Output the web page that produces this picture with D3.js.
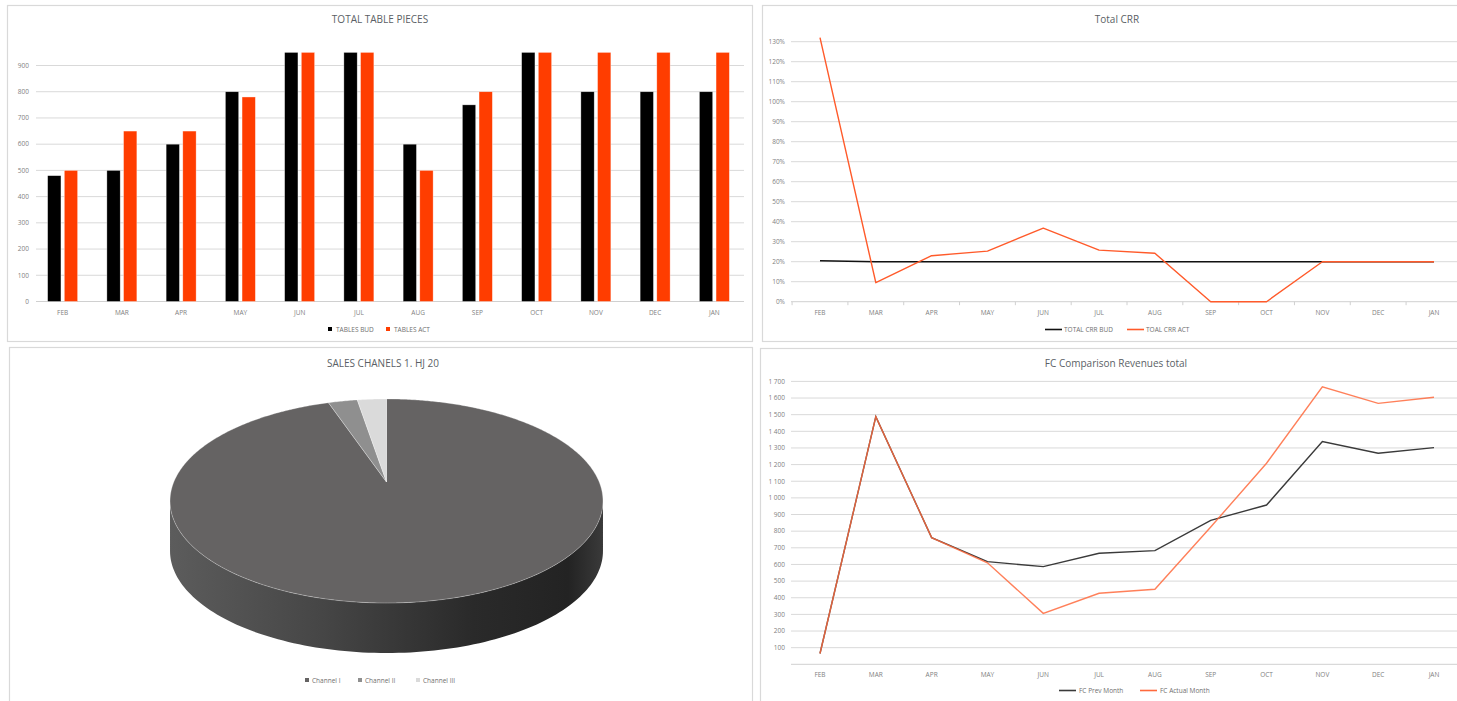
<!DOCTYPE html>
<html>
<head>
<meta charset="utf-8">
<script src="https://cdn.jsdelivr.net/npm/d3@7"></script>
<style>
  html, body { margin: 0; padding: 0; background: #ffffff; }
  svg { display: block; font-family: "Open Sans", "Liberation Sans", sans-serif; }
  .tick-label { fill: #7f7f7f; font-size: 6.5px; }
  .title { fill: #5b5f66; font-size: 10px; }
  .legend { fill: #6f6f6f; font-size: 6.5px; }
</style>
</head>
<body>
<svg id="chart" width="1457" height="701"></svg>
<script>
// ---- data ----
const months = ["FEB","MAR","APR","MAY","JUN","JUL","AUG","SEP","OCT","NOV","DEC","JAN"];

const tablesBud = [480, 500, 600, 800, 950, 950, 600, 750, 950, 800, 800, 800];
const tablesAct = [500, 650, 650, 780, 950, 950, 500, 800, 950, 950, 950, 950];
const tableTicks = [0, 100, 200, 300, 400, 500, 600, 700, 800, 900];

const crrBud = [0.205, 0.20, 0.20, 0.20, 0.20, 0.20, 0.20, 0.20, 0.20, 0.20, 0.20, 0.20];
const crrAct = [1.32, 0.095, 0.23, 0.253, 0.368, 0.258, 0.242, 0.0, 0.0, 0.20, 0.20, 0.20];
const crrTicks = [0, 0.1, 0.2, 0.3, 0.4, 0.5, 0.6, 0.7, 0.8, 0.9, 1.0, 1.1, 1.2, 1.3];

const channels = ["Channel I", "Channel II", "Channel III"];
const channelShare = [94.8, 2.6, 2.6];

const fcPrev   = [65, 1488, 761, 617, 587, 667, 683, 865, 957, 1338, 1268, 1302];
const fcActual = [65, 1488, 761, 610, 306, 427, 451, 825, 1208, 1668, 1568, 1605];
const fcTicks = [100, 200, 300, 400, 500, 600, 700, 800, 900, 1000, 1100, 1200, 1300, 1400, 1500, 1600, 1700];

// ---- helpers ----
const svg = d3.select("#chart");
const gridColor = "#d9d9d9";
const panelColor = "#d9d9d9";

function panel(x, y, w, h) {
  svg.append("rect").attr("x", x + 0.5).attr("y", y + 0.5).attr("width", w).attr("height", h)
    .attr("fill", "#ffffff").attr("stroke", panelColor).attr("stroke-width", 1.2);
}
function title(txt, x, y) {
  svg.append("text").attr("class", "title").attr("x", x).attr("y", y)
    .attr("text-anchor", "middle").text(txt);
}

panel(7, 5, 745, 336);
panel(762, 5, 710, 336);
panel(9, 347, 743, 370);
panel(760, 348, 712, 370);

// ================= TOTAL TABLE PIECES (grouped bars) =================
{
  const g = svg.append("g");
  const x0 = d3.scaleBand().domain(months).range([33, 744]).padding(0);
  const x1 = d3.scaleBand().domain(["bud", "act"]).range([-15, 15]).paddingInner(0.2);
  const y = d3.scaleLinear().domain([0, 950]).range([301.5, 52.4]);

  g.selectAll("line.grid").data(tableTicks.slice(1)).join("line")
    .attr("x1", 36).attr("x2", 744)
    .attr("y1", d => y(d)).attr("y2", d => y(d))
    .attr("stroke", gridColor).attr("stroke-width", 1);
  g.append("line").attr("x1", 36).attr("x2", 744).attr("y1", y(0)).attr("y2", y(0))
    .attr("stroke", "#d0d0d0").attr("stroke-width", 1);

  g.selectAll("text.yl").data(tableTicks).join("text")
    .attr("class", "tick-label").attr("x", 29).attr("y", d => y(d) + 2.3)
    .attr("text-anchor", "end").text(d => d);

  const series = [
    { key: "bud", values: tablesBud, color: "#000000" },
    { key: "act", values: tablesAct, color: "#ff3d00" }
  ];
  series.forEach(s => {
    g.selectAll(null).data(s.values).join("rect")
      .attr("x", (d, i) => x0(months[i]) + x0.bandwidth() / 2 + x1(s.key))
      .attr("width", x1.bandwidth())
      .attr("y", d => y(d))
      .attr("height", d => y(0) - y(d))
      .attr("fill", s.color)
      .attr("stroke", "#ffffff").attr("stroke-opacity", 0.6).attr("stroke-width", 0.6);
  });

  g.selectAll("text.xl").data(months).join("text")
    .attr("class", "tick-label").attr("x", d => x0(d) + x0.bandwidth() / 2).attr("y", 314.5)
    .attr("text-anchor", "middle").text(d => d);

  title("TOTAL TABLE PIECES", 380, 23);

  const leg = [
    { label: "TABLES BUD", color: "#000000", x: 328 },
    { label: "TABLES ACT", color: "#ff3d00", x: 386 }
  ];
  leg.forEach(l => {
    g.append("rect").attr("x", l.x).attr("y", 327).attr("width", 4).attr("height", 4).attr("fill", l.color);
    g.append("text").attr("class", "legend").attr("x", l.x + 8).attr("y", 331.5).text(l.label);
  });
}

// ================= Total CRR (lines) =================
{
  const g = svg.append("g");
  const x = d3.scalePoint().domain(months).range([820, 1434]);
  const step = x.step();
  const y = d3.scaleLinear().domain([0, 1.3]).range([301.7, 41.7]);

  g.selectAll("line.grid").data(crrTicks.slice(1)).join("line")
    .attr("x1", 791).attr("x2", 1462)
    .attr("y1", d => y(d)).attr("y2", d => y(d))
    .attr("stroke", gridColor).attr("stroke-width", 1);
  g.append("line").attr("x1", 791).attr("x2", 1462).attr("y1", y(0)).attr("y2", y(0))
    .attr("stroke", "#d0d0d0").attr("stroke-width", 1);
  // category boundary ticks
  g.selectAll("line.tk").data(d3.range(months.length + 1)).join("line")
    .attr("x1", i => x(months[0]) - step / 2 + i * step)
    .attr("x2", i => x(months[0]) - step / 2 + i * step)
    .attr("y1", y(0)).attr("y2", y(0) + 3.5)
    .attr("stroke", "#d0d0d0").attr("stroke-width", 1);

  const pct = d3.format(".0%");
  g.selectAll("text.yl").data(crrTicks).join("text")
    .attr("class", "tick-label").attr("x", 785).attr("y", d => y(d) + 2.3)
    .attr("text-anchor", "end").text(d => pct(d));

  g.selectAll("text.xl").data(months).join("text")
    .attr("class", "tick-label").attr("x", d => x(d)).attr("y", 314.5)
    .attr("text-anchor", "middle").text(d => d);

  const line = d3.line().x((d, i) => x(months[i])).y(d => y(d));
  g.append("path").datum(crrBud).attr("d", line)
    .attr("fill", "none").attr("stroke", "#111111").attr("stroke-width", 1.4);
  g.append("path").datum(crrAct).attr("d", line)
    .attr("fill", "none").attr("stroke", "#ff5a2a").attr("stroke-width", 1.4)
    .attr("stroke-linejoin", "round");

  title("Total CRR", 1117, 23);

  const leg = [
    { label: "TOTAL CRR BUD", color: "#111111", x: 1045 },
    { label: "TOAL CRR ACT", color: "#ff5a2a", x: 1127 }
  ];
  leg.forEach(l => {
    g.append("line").attr("x1", l.x).attr("x2", l.x + 17).attr("y1", 329.5).attr("y2", 329.5)
      .attr("stroke", l.color).attr("stroke-width", 1.6);
    g.append("text").attr("class", "legend").attr("x", l.x + 19).attr("y", 332).text(l.label);
  });
}

// ================= SALES CHANELS (3D pie) =================
{
  const g = svg.append("g");
  const cx = 386.5, cy = 482, R = 212.7, Ry = 98.5, k = 0.186, depth = 50;
  const colors = ["#656363", "#8f8f8f", "#dadada"];

  // perspective projection of a point on the pie's top disc
  function project(a, r = 1) {
    const u = Math.sin(a) * r, w = -Math.cos(a) * r;
    const s = 1 / (1 - k * w);
    return [cx + R * u * s, cy + Ry * w * s];
  }

  const defs = svg.append("defs");
  const grad = defs.append("linearGradient").attr("id", "sideGrad")
    .attr("gradientUnits", "userSpaceOnUse").attr("x1", 170).attr("x2", 603).attr("y1", 0).attr("y2", 0);
  [[0, "#5c5c5c"], [0.35, "#464646"], [0.7, "#2a2a2a"], [0.92, "#232323"], [1, "#3a3a3a"]]
    .forEach(([o, c]) => grad.append("stop").attr("offset", o).attr("stop-color", c));

  // side wall, from the left silhouette point round the front to the right one
  const aR = Math.acos(-k), aL = 2 * Math.PI - aR;
  const topArc = d3.range(0, 121).map(i => project(aR + (aL - aR) * i / 120));
  const botArc = topArc.slice().reverse().map(([px, py]) => [px, py + depth]);
  g.append("path").attr("d", "M" + topArc.concat(botArc).map(p => p.join(",")).join("L") + "Z")
    .attr("fill", "url(#sideGrad)");

  const arcs = d3.pie().sort(null).value(d => d)(channelShare);
  arcs.forEach((a, i) => {
    const n = Math.max(4, Math.ceil((a.endAngle - a.startAngle) / 0.01));
    const pts = [[cx, cy]].concat(d3.range(n + 1).map(j => project(a.startAngle + (a.endAngle - a.startAngle) * j / n)));
    g.append("path").attr("d", "M" + pts.map(p => p.join(",")).join("L") + "Z")
      .attr("fill", colors[i]).attr("stroke", "#ffffff").attr("stroke-width", 0.5).attr("stroke-opacity", 0.6);
  });

  title("SALES CHANELS 1. HJ 20", 383, 367);

  const lx = [305, 358, 416];
  channels.forEach((c, i) => {
    g.append("rect").attr("x", lx[i]).attr("y", 678).attr("width", 4).attr("height", 4).attr("fill", colors[i]);
    g.append("text").attr("class", "legend").attr("x", lx[i] + 7).attr("y", 682.5).text(c);
  });
}

// ================= FC Comparison Revenues total (lines) =================
{
  const g = svg.append("g");
  const x = d3.scalePoint().domain(months).range([820, 1434]);
  const y = d3.scaleLinear().domain([0, 1700]).range([664.3, 381.4]);
  const fmt = d3.formatLocale({ decimal: ",", thousands: " ", grouping: [3], currency: ["", ""] }).format(",");

  g.selectAll("line.grid").data(fcTicks).join("line")
    .attr("x1", 791).attr("x2", 1462)
    .attr("y1", d => y(d)).attr("y2", d => y(d))
    .attr("stroke", gridColor).attr("stroke-width", 1);
  g.append("line").attr("x1", 791).attr("x2", 1462).attr("y1", y(0)).attr("y2", y(0))
    .attr("stroke", "#d0d0d0").attr("stroke-width", 1);

  g.selectAll("text.yl").data(fcTicks).join("text")
    .attr("class", "tick-label").attr("x", 785).attr("y", d => y(d) + 2.3)
    .attr("text-anchor", "end").text(d => fmt(d));

  g.selectAll("text.xl").data(months).join("text")
    .attr("class", "tick-label").attr("x", d => x(d)).attr("y", 677)
    .attr("text-anchor", "middle").text(d => d);

  const line = d3.line().x((d, i) => x(months[i])).y(d => y(d));
  g.append("path").datum(fcPrev).attr("d", line)
    .attr("fill", "none").attr("stroke", "#3a3a3a").attr("stroke-width", 1.4);
  g.append("path").datum(fcActual).attr("d", line)
    .attr("fill", "none").attr("stroke", "#ff6a3d").attr("stroke-width", 1.4).attr("stroke-opacity", 0.85);

  title("FC Comparison Revenues total", 1116, 367);

  const leg = [
    { label: "FC Prev Month", color: "#3a3a3a", x: 1059 },
    { label: "FC Actual Month", color: "#ff6a3d", x: 1140 }
  ];
  leg.forEach(l => {
    g.append("line").attr("x1", l.x).attr("x2", l.x + 17).attr("y1", 690.5).attr("y2", 690.5)
      .attr("stroke", l.color).attr("stroke-width", 1.6);
    g.append("text").attr("class", "legend").attr("x", l.x + 20).attr("y", 693).text(l.label);
  });
}
</script>
</body>
</html>
